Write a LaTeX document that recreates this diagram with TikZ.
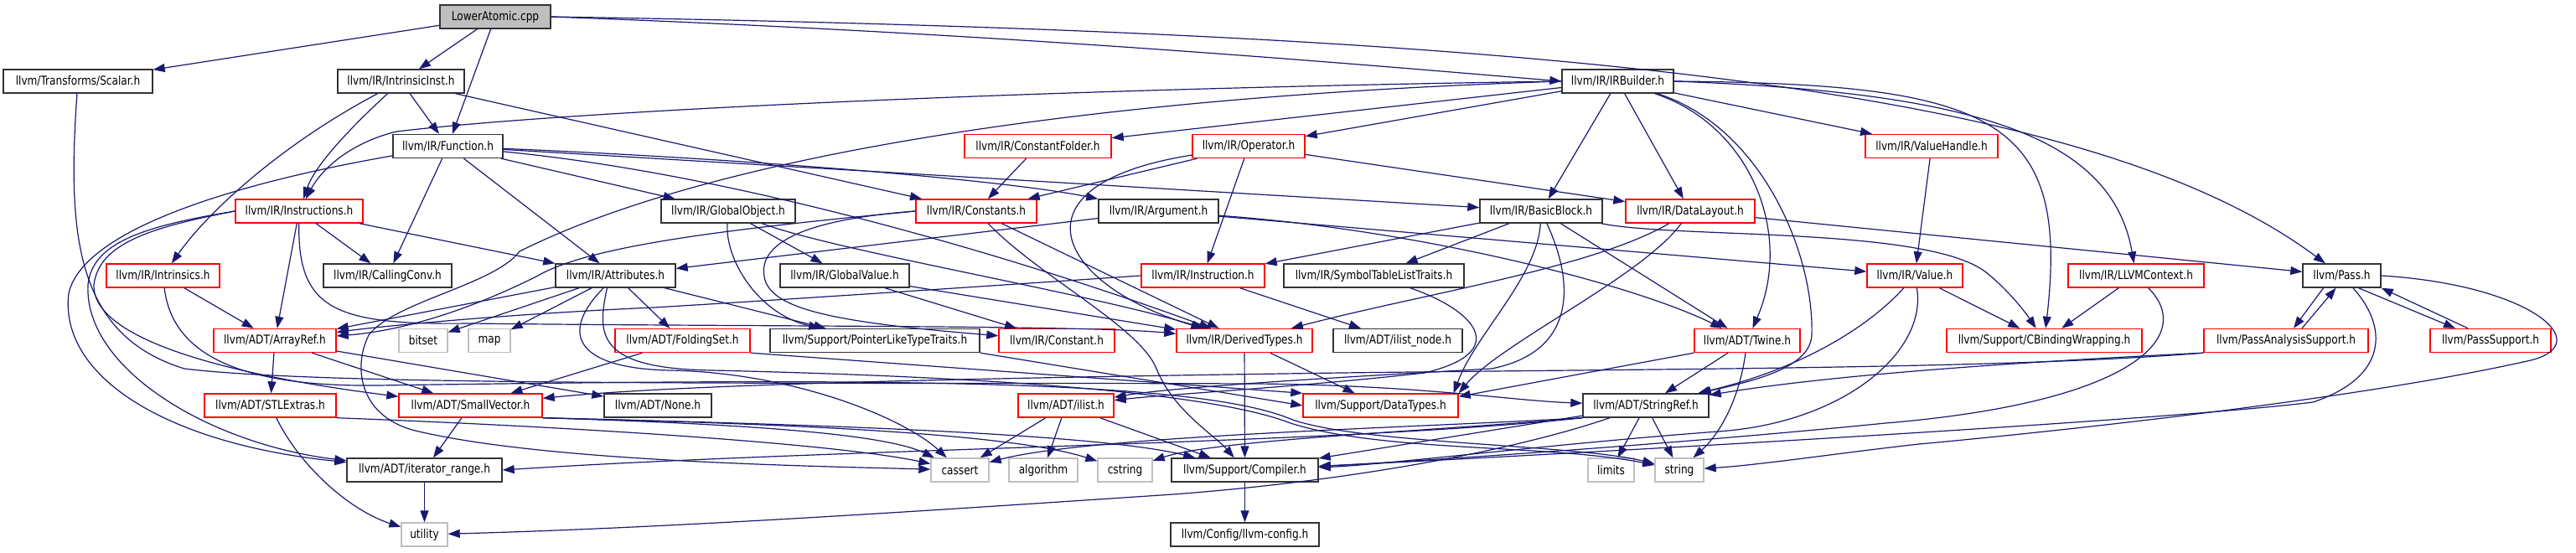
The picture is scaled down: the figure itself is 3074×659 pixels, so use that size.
\documentclass[tikz,border=0pt]{standalone}
\usepackage{fontspec}
\newfontfamily\nf[FakeStretch=0.83]{DejaVu Sans}
\usetikzlibrary{arrows.meta}
\definecolor{eblue}{HTML}{191970}
\begin{document}
\begin{tikzpicture}[x=1pt,y=-1pt,
  box/.style={draw=black!80, line width=1.4pt, fill=white, minimum height=28pt, inner sep=0pt, font={\nf\fontsize{14.6}{16}\selectfont}},
  rbox/.style={box, draw=red},
  gbox/.style={box, draw=black!25},
  ed/.style={draw=eblue, line width=1.2pt, -{Triangle[length=14pt,width=10pt]}}]
\useasboundingbox (0,0) rectangle (3074,659);
\fill[white] (0,0) rectangle (3074,659);
% row 0
\node[box, fill=black!25, minimum width=132pt] (LA) at (591,20) {LowerAtomic.cpp};
% row 1
\node[box, minimum width=178pt] (Sc) at (93,97) {llvm/Transforms/Scalar.h};
\node[box, minimum width=151pt] (II) at (478.5,97) {llvm/IR/IntrinsicInst.h};
\node[box, minimum width=133pt] (IRB) at (1930.5,97) {llvm/IR/IRBuilder.h};
% row 2
\node[box, minimum width=131pt] (Fn) at (534.5,174.5) {llvm/IR/Function.h};
\node[rbox, minimum width=175pt] (CF) at (1238.5,174.5) {llvm/IR/ConstantFolder.h};
\node[rbox, minimum width=134pt] (Op) at (1490,174.5) {llvm/IR/Operator.h};
\node[rbox, minimum width=158pt] (VH) at (2305,174.5) {llvm/IR/ValueHandle.h};
% row 3
\node[rbox, minimum width=152pt] (Ins) at (357,252) {llvm/IR/Instructions.h};
\node[box, minimum width=160pt] (GO) at (869,252) {llvm/IR/GlobalObject.h};
\node[rbox, minimum width=144pt] (Cs) at (1165,252) {llvm/IR/Constants.h};
\node[box, minimum width=143pt] (Arg) at (1382.5,252) {llvm/IR/Argument.h};
\node[box, minimum width=146pt] (BB) at (1839,252) {llvm/IR/BasicBlock.h};
\node[rbox, minimum width=154pt] (DL) at (2017,252) {llvm/IR/DataLayout.h};
% row 4
\node[rbox, minimum width=135pt] (Intr) at (194.5,329) {llvm/IR/Intrinsics.h};
\node[box, minimum width=153pt] (CC) at (462.5,329) {llvm/IR/CallingConv.h};
\node[box, minimum width=143pt] (Attr) at (734.5,329) {llvm/IR/Attributes.h};
\node[box, minimum width=154pt] (GV) at (1008,329) {llvm/IR/GlobalValue.h};
\node[rbox, minimum width=147pt] (Inst) at (1435.5,329) {llvm/IR/Instruction.h};
\node[box, minimum width=215pt] (STLT) at (1639.5,329) {llvm/IR/SymbolTableListTraits.h};
\node[rbox, minimum width=114pt] (Val) at (2285,329) {llvm/IR/Value.h};
\node[rbox, minimum width=162pt] (Ctx) at (2549,329) {llvm/IR/LLVMContext.h};
\node[box, minimum width=93pt] (Pass) at (2794.5,329) {llvm/Pass.h};
% row 5
\node[rbox, minimum width=146pt] (AR) at (328,406.5) {llvm/ADT/ArrayRef.h};
\node[gbox, minimum width=58pt] (bitset) at (505,406.5) {bitset};
\node[gbox, minimum width=50pt] (map) at (584,406.5) {map};
\node[rbox, minimum width=161pt] (FS) at (814.5,406.5) {llvm/ADT/FoldingSet.h};
\node[box, minimum width=250pt] (PLT) at (1044,406.5) {llvm/Support/PointerLikeTypeTraits.h};
\node[rbox, minimum width=138pt] (Cst) at (1261,406.5) {llvm/IR/Constant.h};
\node[rbox, minimum width=162pt] (DT) at (1485,406.5) {llvm/IR/DerivedTypes.h};
\node[box, minimum width=154pt] (iln) at (1668,406.5) {llvm/ADT/ilist\_node.h};
\node[rbox, minimum width=126pt] (Tw) at (2085,406.5) {llvm/ADT/Twine.h};
\node[rbox, minimum width=233pt] (CBW) at (2439.5,406.5) {llvm/Support/CBindingWrapping.h};
\node[rbox, minimum width=196pt] (PAS) at (2728,406.5) {llvm/PassAnalysisSupport.h};
\node[rbox, minimum width=144pt] (PS) at (2972,406.5) {llvm/PassSupport.h};
% row 6
\node[rbox, minimum width=157pt] (STL) at (322.5,484) {llvm/ADT/STLExtras.h};
\node[rbox, minimum width=171pt] (SV) at (561.5,484) {llvm/ADT/SmallVector.h};
\node[box, minimum width=128pt] (None) at (785,484) {llvm/ADT/None.h};
\node[rbox, minimum width=114pt] (il) at (1272,484) {llvm/ADT/ilist.h};
\node[rbox, minimum width=185pt] (DTy) at (1647.5,484) {llvm/Support/DataTypes.h};
\node[box, minimum width=150pt] (SR) at (1964,484) {llvm/ADT/StringRef.h};
% row 7
\node[box, minimum width=185pt] (IR) at (506.5,561) {llvm/ADT/iterator\_range.h};
\node[gbox, minimum width=69pt] (cassert) at (1145.5,561) {cassert};
\node[gbox, minimum width=82pt] (algorithm) at (1245,561) {algorithm};
\node[gbox, minimum width=65pt] (cstring) at (1342.5,561) {cstring};
\node[box, minimum width=175pt] (Comp) at (1485.5,561) {llvm/Support/Compiler.h};
\node[gbox, minimum width=55pt] (limits) at (1922.5,561) {limits};
\node[gbox, minimum width=58pt] (string) at (2004,561) {string};
% row 8
\node[gbox, minimum width=55pt] (utility) at (506.5,638) {utility};
\node[box, minimum width=177pt] (cfg) at (1485.5,638) {llvm/Config/llvm-config.h};

% ---- edges ----
% LowerAtomic.cpp
\draw[ed] (LA) -- (Sc);
\draw[ed] (LA) -- (II);
\draw[ed] (LA) -- (Fn);
\draw[ed] (LA.east) .. controls (1200,40) and (1600,75) .. (IRB.west);
\draw[ed] (LA.east) .. controls (1900,40) and (2500,110) .. (Pass);
% Scalar.h
\draw[ed] (Sc) .. controls (80,280) and (90,400) .. (220,440) .. controls (400,462) and (1000,456) .. (1500,458) .. controls (1700,460) and (1800,478) .. (SR);
% IntrinsicInst.h
\draw[ed] (II) -- (Fn);
\draw[ed] (II) .. controls (410,160) and (375,200) .. (Ins);
\draw[ed] (II) .. controls (340,170) and (250,250) .. (Intr);
\draw[ed] (II) -- (Cs);
% IRBuilder.h
\draw[ed] (IRB) -- (CF);
\draw[ed] (IRB) -- (Op);
\draw[ed] (IRB) -- (VH);
\draw[ed] (IRB) -- (BB);
\draw[ed] (IRB) -- (DL);
\draw[ed] (IRB.west) .. controls (1300,105) and (700,130) .. (473,157) .. controls (420,170) and (385,200) .. (Ins);
\draw[ed] (IRB.west) .. controls (1300,115) and (850,185) .. (620,300) .. controls (590,340) and (470,360) .. (440,400) .. controls (420,440) and (430,500) .. (500,515) .. controls (650,550) and (950,556) .. (cassert);
\draw[ed] (IRB) .. controls (2090,150) and (2140,280) .. (Tw);
\draw[ed] (IRB) .. controls (2100,150) and (2165,300) .. (2162,400) .. controls (2160,440) and (2090,455) .. (SR);
\draw[ed] (IRB.east) .. controls (2350,110) and (2520,160) .. (Ctx);
\draw[ed] (IRB.east) .. controls (2380,100) and (2470,140) .. (CBW);
% Function.h
\draw[ed] (Fn) -- (CC);
\draw[ed] (Fn) -- (Attr);
\draw[ed] (Fn) .. controls (300,215) and (100,270) .. (82,350) .. controls (70,450) and (200,530) .. (IR);
\draw[ed] (Fn) -- (GO);
\draw[ed] (Fn) .. controls (900,190) and (1200,215) .. (Arg);
\draw[ed] (Fn) -- (BB);
\draw[ed] (Fn) .. controls (900,210) and (1250,320) .. (DT);
% ConstantFolder.h, Operator.h, ValueHandle.h
\draw[ed] (CF) -- (Cs);
\draw[ed] (Op) -- (Cs);
\draw[ed] (Op) -- (Inst);
\draw[ed] (Op) -- (DL);
\draw[ed] (Op) .. controls (1200,220) and (1260,340) .. (DT);
\draw[ed] (VH) -- (Val);
% Instructions.h
\draw[ed] (Ins) -- (CC);
\draw[ed] (Ins) -- (Attr);
\draw[ed] (Ins) -- (AR);
\draw[ed] (Ins) .. controls (355,370) and (400,388) .. (560,386) .. controls (900,390) and (1300,388) .. (DT);
\draw[ed] (Ins.west) .. controls (170,270) and (110,290) .. (105,340) .. controls (100,440) and (250,530) .. (IR);
\draw[ed] (Ins.west) .. controls (175,272) and (118,292) .. (112,340) .. controls (110,400) and (250,445) .. (SV);
% Intrinsics.h
\draw[ed] (Intr) -- (AR);
\draw[ed] (Intr) .. controls (205,420) and (280,462) .. (450,460) .. controls (1000,452) and (1420,450) .. (1540,500) .. controls (1620,530) and (1880,530) .. (string);
% Attributes.h
\draw[ed] (Attr) -- (AR);
\draw[ed] (Attr) -- (bitset);
\draw[ed] (Attr) -- (map);
\draw[ed] (Attr) -- (FS);
\draw[ed] (Attr) -- (PLT);
\draw[ed] (Attr) .. controls (665,400) and (690,440) .. (800,442) .. controls (950,445) and (1080,500) .. (cassert);
\draw[ed] ([xshift=-10pt]Attr.south) .. controls (712,400) and (712,440) .. (850,442) .. controls (1200,450) and (1450,470) .. (1540,505) .. controls (1650,540) and (1850,530) .. (string);
% GlobalObject.h, GlobalValue.h
\draw[ed] (GO) -- (GV);
\draw[ed] (GO) .. controls (865,310) and (905,375) .. (PLT);
\draw[ed] (GO) .. controls (1000,300) and (1300,350) .. (DT);
\draw[ed] (GV) -- (Cst);
\draw[ed] (GV) -- (DT);
% Constants.h
\draw[ed] (Cs.west) .. controls (960,262) and (905,290) .. (912,330) .. controls (918,370) and (1000,385) .. (Cst);
\draw[ed] (Cs.west) .. controls (850,275) and (700,295) .. (640,330) .. controls (560,370) and (480,395) .. (AR);
\draw[ed] (Cs) .. controls (1240,330) and (1360,390) .. (1380,440) .. controls (1400,490) and (1450,520) .. (Comp);
\draw[ed] (Cs) -- (DT);
% Argument.h
\draw[ed] (Arg) -- (Attr);
\draw[ed] (Arg) -- (Val);
\draw[ed] (Arg) .. controls (1700,275) and (1950,340) .. (Tw);
% BasicBlock.h
\draw[ed] (BB) -- (Inst);
\draw[ed] (BB) -- (STLT);
\draw[ed] (BB) .. controls (1835,330) and (1760,400) .. ([xshift=-6pt]DTy.north east);
\draw[ed] (BB) .. controls (1880,340) and (1880,420) .. (1780,440) .. controls (1600,450) and (1400,462) .. (il);
\draw[ed] (BB) -- (Tw);
\draw[ed] (BB) .. controls (2000,285) and (2300,270) .. (2370,325) .. controls (2395,345) and (2415,370) .. (CBW);
% DataLayout.h
\draw[ed] (DL) -- (Pass);
\draw[ed] (DL) .. controls (1900,320) and (1700,350) .. (DT);
\draw[ed] (DL) .. controls (1960,330) and (1790,410) .. (DTy.north east);
% Instruction.h
\draw[ed] (Inst.west) .. controls (1200,340) and (900,360) .. (780,367) .. controls (600,375) and (450,390) .. (AR);
\draw[ed] (Inst) -- (iln);
% SymbolTableListTraits.h
\draw[ed] (STLT) .. controls (1760,370) and (1805,420) .. (1700,445) .. controls (1550,462) and (1400,470) .. (il);
% Value.h
\draw[ed] (Val) -- (CBW);
\draw[ed] (Val) .. controls (2230,390) and (2150,440) .. (SR);
\draw[ed] (Val) .. controls (2300,420) and (2200,505) .. (2050,515) .. controls (1850,530) and (1650,555) .. (Comp);
% LLVMContext.h
\draw[ed] (Ctx) -- (CBW);
\draw[ed] (Ctx) .. controls (2620,400) and (2550,480) .. (2250,505) .. controls (2000,530) and (1700,550) .. (Comp);
% Pass.h and friends
\draw[ed] ([xshift=-22pt]Pass.south) -- ([xshift=9pt]PAS.north);
\draw[ed] ([xshift=19pt]PAS.north) -- ([xshift=-7pt]Pass.south);
\draw[ed] ([xshift=20pt]Pass.south) -- ([xshift=-42pt]PS.north);
\draw[ed] ([xshift=-27pt]PS.north) -- (Pass.south east);
\draw[ed] (Pass.east) .. controls (3020,340) and (3100,410) .. (3020,430) .. controls (2800,480) and (2400,520) .. (2290,530) .. controls (2200,540) and (2100,555) .. (string);
\draw[ed] (Pass) .. controls (2850,390) and (2850,450) .. (2760,480) .. controls (2600,500) and (2000,535) .. (Comp);
\draw[ed] (PAS.south west) .. controls (2450,430) and (2200,445) .. (SR);
\draw[ed] (PAS.south west) .. controls (2400,440) and (2000,440) .. (1600,445) .. controls (1100,452) and (800,460) .. (SV);
% ArrayRef.h, STLExtras.h, SmallVector.h
\draw[ed] (AR) -- (STL);
\draw[ed] (AR) -- (SV);
\draw[ed] (AR) -- (None);
\draw[ed] (STL) .. controls (360,560) and (420,610) .. (utility);
\draw[ed] (STL.south east) .. controls (700,510) and (1000,530) .. (cassert);
\draw[ed] (SV) -- (IR);
\draw[ed] (SV.south east) .. controls (850,505) and (1050,515) .. (cassert);
\draw[ed] (SV.south east) .. controls (900,505) and (1200,515) .. (cstring);
\draw[ed] (SV.south east) .. controls (900,505) and (1300,515) .. (Comp);
% ilist.h
\draw[ed] (il) -- (cassert);
\draw[ed] (il) -- (algorithm);
\draw[ed] (il) -- (Comp);
% StringRef.h
\draw[ed] (SR) -- (limits);
\draw[ed] (SR) -- (string);
\draw[ed] (SR) -- (Comp);
\draw[ed] (SR.south west) .. controls (1700,510) and (1300,520) .. (cassert);
\draw[ed] (SR.south west) .. controls (1700,515) and (1450,525) .. (cstring);
\draw[ed] (SR.south west) .. controls (1600,530) and (1000,535) .. (IR.east);
\draw[ed] (SR) .. controls (1800,540) and (1600,575) .. (1400,590) .. controls (1100,610) and (800,630) .. (utility);
% Twine.h
\draw[ed] (Tw) -- (SR);
\draw[ed] (Tw) .. controls (2075,480) and (2050,520) .. (string);
\draw[ed] (Tw.south west) -- ([yshift=-4pt]DTy.north east);
% DerivedTypes.h, FoldingSet.h, PointerLikeTypeTraits.h
\draw[ed] (DT) -- (Comp);
\draw[ed] (DT) -- (DTy);
\draw[ed] (FS) -- (SV);
\draw[ed] (FS.south east) -- (DTy.north west);
\draw[ed] (PLT.south east) -- (DTy.west);
% iterator_range.h, Compiler.h
\draw[ed] (IR) -- (utility);
\draw[ed] (Comp) -- (cfg);
\end{tikzpicture}
\end{document}
